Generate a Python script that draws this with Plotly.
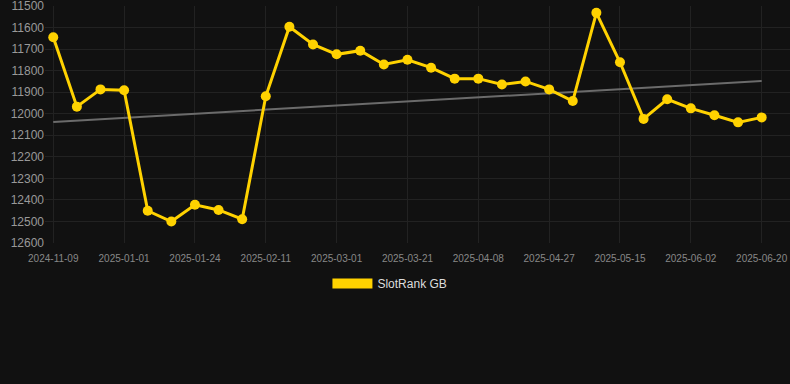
import plotly.graph_objects as go

dates = ["2024-11-09", "2024-11-27", "2024-12-14", "2025-01-01", "2025-01-08", "2025-01-16",
         "2025-01-24", "2025-01-30", "2025-02-05", "2025-02-11", "2025-02-17", "2025-02-23",
         "2025-03-01", "2025-03-08", "2025-03-14", "2025-03-21", "2025-03-27", "2025-04-02",
         "2025-04-08", "2025-04-14", "2025-04-21", "2025-04-27", "2025-05-03", "2025-05-09",
         "2025-05-15", "2025-05-21", "2025-05-27", "2025-06-02", "2025-06-08", "2025-06-14",
         "2025-06-20"]
rank = [11645, 11967, 11887, 11891, 12451, 12501, 12423, 12447, 12490, 11919, 11596,
        11678, 11724, 11707, 11771, 11749, 11786, 11837, 11837, 11864, 11850, 11887,
        11941, 11531, 11761, 12024, 11933, 11975, 12007, 12040, 12017]
trend_x = [dates[0], dates[-1]]
trend_y = [12038, 11848]
tick_labels = dates[::3]
y_ticks = [11500, 11600, 11700, 11800, 11900, 12000, 12100, 12200, 12300, 12400, 12500, 12600]
y_tick_text = [str(v) for v in y_ticks]

fig = go.Figure()
fig.add_trace(go.Scatter(x=trend_x, y=trend_y, mode="lines",
                         line=dict(color="#6b6b6b", width=2), showlegend=False, hoverinfo="skip"))
fig.add_trace(go.Scatter(x=dates, y=rank, mode="lines+markers",
                         line=dict(color="#FFD200", width=3),
                         marker=dict(color="#FFD200", size=10),
                         showlegend=False))
fig.add_trace(go.Scatter(x=[None], y=[None], mode="lines", name="SlotRank GB",
                         line=dict(color="#FFD200", width=12)))

fig.update_layout(
    width=790, height=384,
    paper_bgcolor="#111111", plot_bgcolor="#111111",
    margin=dict(l=45, r=0, t=6, b=141),
    font=dict(family="Liberation Sans, Arial, sans-serif", color="#999999"),
    showlegend=True,
    legend=dict(orientation="h", x=0.463, xanchor="center",
                y=-0.11, yanchor="top",
                font=dict(size=12, color="#dddddd"), bgcolor="rgba(0,0,0,0)",
                itemwidth=40),
    xaxis=dict(type="category", categoryorder="array", categoryarray=dates,
               tickvals=tick_labels, ticktext=tick_labels,
               range=[-0.35, 31.2], tickangle=0, automargin=False,
               showgrid=True, gridcolor="#222222", gridwidth=1,
               zeroline=False, showline=False,
               ticks="outside", ticklen=6, tickcolor="rgba(0,0,0,0)",
               tickfont=dict(size=10, color="#888888")),
    yaxis=dict(range=[12600.5, 11499.5], tickvals=y_ticks, ticktext=y_tick_text,
               ticklabeloverflow="allow", automargin=False,
               showgrid=True, gridcolor="#222222", gridwidth=1,
               zeroline=False, showline=False,
               ticks="", ticklen=0,
               tickfont=dict(size=12, color="#999999")),
)

fig.write_html("out.html", config={"displayModeBar": False},
               post_script="document.body.style.margin='0';document.body.style.background='#111111';")
